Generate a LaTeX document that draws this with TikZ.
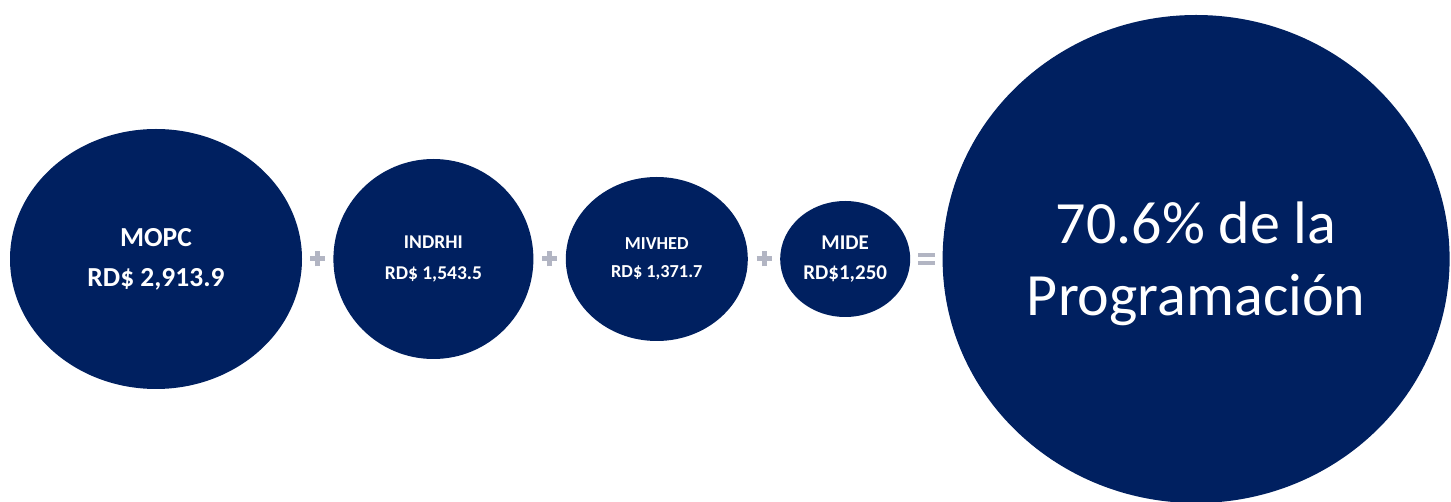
\documentclass[tikz,border=0pt]{standalone}
\usepackage{fontspec}
\setmainfont{Carlito}
\usetikzlibrary{positioning, calc, shapes.geometric}
\definecolor{azul}{HTML}{002060}
\definecolor{gris}{RGB}{178,181,195}
\tikzset{
    %Define style for the bubbles
    bulle/.style={
           ellipse,
           fill=azul,
           inner sep=0pt,
           text=white,
           align=center},
    % Define style for the signs
    signo/.style={
           draw=gris,
           line width=5pt}
}

\begin{document}
\begin{tikzpicture}[x=1pt, y=-1pt, node distance=31pt]
	\useasboundingbox (0,0) rectangle (1451,502);
	%
	% bulles
	%
	\node[bulle, minimum width=292pt, minimum height=260pt,
	      font=\bfseries\fontsize{27.5}{40}\selectfont] (mopc) at (156,259) {MOPC\\RD\$ 2,913.9};
	\node[bulle, minimum width=200pt, minimum height=200pt, right=of mopc,
	      font=\bfseries\fontsize{19.5}{31}\selectfont] (indrhi) {INDRHI\\RD\$ 1,543.5};
	\node[bulle, minimum width=182pt, minimum height=164pt, right=32pt of indrhi,
	      font=\bfseries\fontsize{18.3}{28.5}\selectfont] (mivhed) {MIVHED\\RD\$ 1,371.7};
	\node[bulle, minimum width=130pt, minimum height=116pt, right=32pt of mivhed,
	      font=\bfseries\fontsize{21}{30.5}\selectfont] (mide) {MIDE\\RD\$1,250};
	\node[bulle, minimum width=507pt, minimum height=488pt, right=32pt of mide,
	      font=\fontsize{60}{72}\selectfont, text depth=0pt] (total) {70.6\% de la\\Programación};
	%
	% signes
	%
	\coordinate (s1) at ($(mopc.east)!.5!(indrhi.west)$);
	\coordinate (s2) at ($(indrhi.east)!.5!(mivhed.west)$);
	\coordinate (s3) at ($(mivhed.east)!.5!(mide.west)$);
	\coordinate (s4) at ($(mide.east)!.5!(total.west)$);
	\draw[signo] ([xshift=-7.5pt]s1) -- ([xshift=7.5pt]s1);
	\draw[signo] ([yshift=-7.5pt]s1) -- ([yshift=7.5pt]s1);
	\draw[signo] ([xshift=-7.5pt]s2) -- ([xshift=7.5pt]s2);
	\draw[signo] ([yshift=-7.5pt]s2) -- ([yshift=7.5pt]s2);
	\draw[signo] ([xshift=-7.5pt]s3) -- ([xshift=7.5pt]s3);
	\draw[signo] ([yshift=-7.5pt]s3) -- ([yshift=7.5pt]s3);
	\draw[signo, line width=4.2pt] ([shift={(-8.5,-4.1)}]s4) -- ([shift={(8.5,-4.1)}]s4);
	\draw[signo, line width=4.2pt] ([shift={(-8.5,4.1)}]s4) -- ([shift={(8.5,4.1)}]s4);
\end{tikzpicture}
\end{document}
